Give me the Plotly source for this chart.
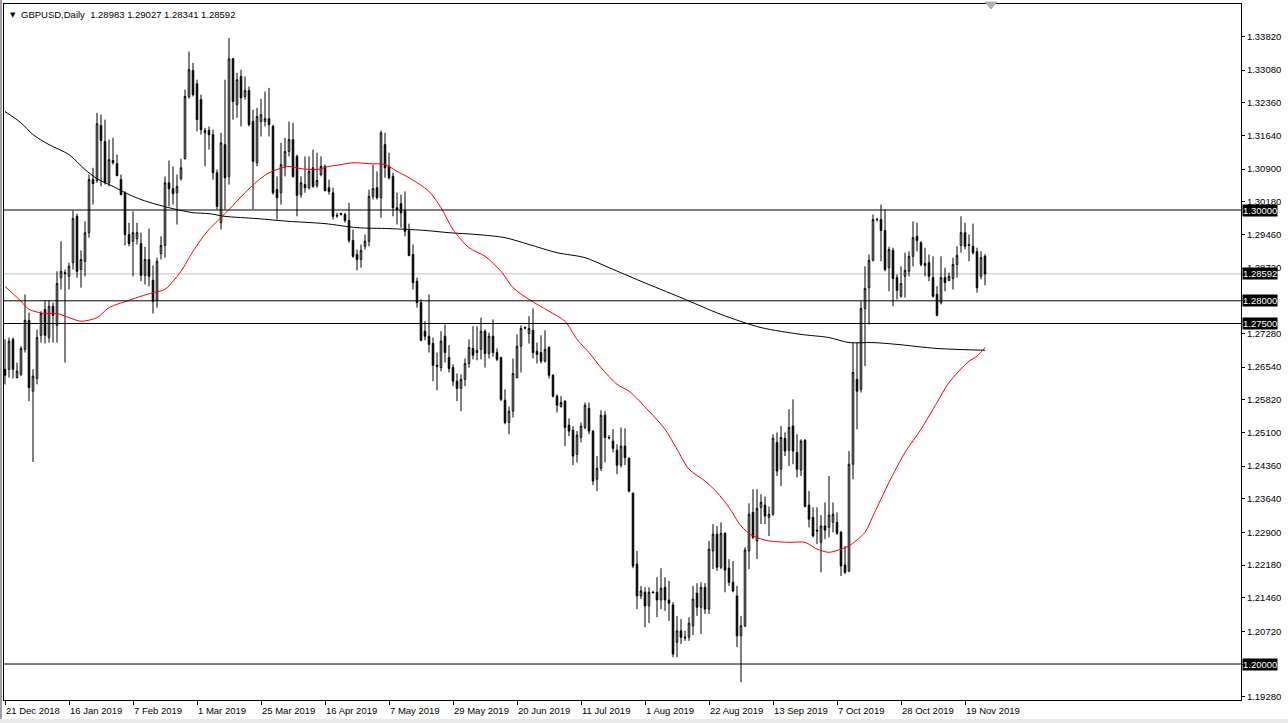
import plotly.graph_objects as go

# ---------------- data ----------------
opens = [1.2649,1.2649,1.2715,1.2631,1.2638,1.2693,1.2757,1.2601,1.2629,1.2724,
1.2781,1.2719,1.2788,1.2746,1.2851,1.2862,1.2854,1.2884,1.2986,1.2869,
1.2887,1.2950,1.3067,1.3065,1.3186,1.3151,1.3060,1.3109,1.3102,1.3067,
1.3038,1.2946,1.2931,1.2937,1.2926,1.2856,1.2891,1.2845,1.2801,1.2904,
1.2922,1.3060,1.3047,1.3038,1.3069,1.3113,1.3250,1.3307,1.3278,1.3243,
1.3175,1.3175,1.3166,1.3082,1.2972,1.3144,1.3074,1.3333,1.3232,1.3294,
1.3250,1.3263,1.3195,1.3104,1.3195,1.3195,1.3201,1.3184,1.3045,1.3038,
1.3096,1.3129,1.3155,1.3118,1.3034,1.3056,1.3049,1.3093,1.3054,1.3078,
1.3096,1.3049,1.3038,1.2988,1.2990,1.2990,1.2977,1.2933,1.2902,1.2891,
1.2920,1.2931,1.3030,1.3049,1.3027,1.3144,1.3096,1.3074,1.3005,1.3014,
1.2999,1.2955,1.2902,1.2843,1.2796,1.2733,1.2722,1.2706,1.2658,1.2653,
1.2722,1.2675,1.2653,1.2623,1.2607,1.2627,1.2662,1.2695,1.2686,1.2693,
1.2733,1.2684,1.2722,1.2686,1.2675,1.2581,1.2532,1.2557,1.2631,1.2700,
1.2741,1.2728,1.2735,1.2689,1.2686,1.2667,1.2697,1.2636,1.2590,1.2567,
1.2579,1.2526,1.2515,1.2462,1.2499,1.2521,1.2563,1.2513,1.2407,1.2431,
1.2548,1.2499,1.2491,1.2471,1.2438,1.2480,1.2453,1.2376,1.2220,1.2150,
1.2158,1.2128,1.2158,1.2158,1.2141,1.2169,1.2141,1.2130,1.2048,1.2073,
1.2057,1.2059,1.2084,1.2156,1.2125,1.2169,1.2121,1.2249,1.2286,1.2213,
1.2288,1.2211,1.2180,1.2150,1.2062,1.2084,1.2249,1.2334,1.2271,1.2345,
1.2350,1.2323,1.2330,1.2488,1.2429,1.2497,1.2471,1.2524,1.2466,1.2427,
1.2493,1.2350,1.2323,1.2295,1.2268,1.2304,1.2301,1.2312,1.2312,1.2290,
1.2218,1.2205,1.2440,1.2627,1.2605,1.2783,1.2829,1.2889,1.2979,1.2979,
1.2955,1.2873,1.2911,1.2851,1.2810,1.2854,1.2865,1.2898,1.2942,1.2928,
1.2882,1.2884,1.2851,1.2814,1.2796,1.2851,1.2845,1.2849,1.2880,1.2922,
1.2950,1.2924,1.2920,1.2908,1.2854,1.28983]

highs = [1.2715,1.2719,1.2719,1.2664,1.2700,1.2814,1.2774,1.2649,1.2737,1.2777,
1.2801,1.2801,1.2796,1.2865,1.2931,1.2869,1.2884,1.2999,1.2992,1.2911,
1.2975,1.3078,1.3093,1.3214,1.3210,1.3199,1.3155,1.3159,1.3122,1.3078,
1.3041,1.2972,1.2997,1.2972,1.2950,1.2919,1.2959,1.2878,1.2895,1.2942,
1.3074,1.3109,1.3096,1.3078,1.3113,1.3265,1.3349,1.3324,1.3287,1.3254,
1.3181,1.3184,1.3177,1.3089,1.3170,1.3287,1.3379,1.3335,1.3302,1.3309,
1.3294,1.3272,1.3221,1.3225,1.3245,1.3261,1.3269,1.3188,1.3074,1.3148,
1.3159,1.3195,1.3192,1.3122,1.3074,1.3118,1.3118,1.3133,1.3126,1.3118,
1.3100,1.3067,1.3049,1.2994,1.2994,1.2994,1.3016,1.2957,1.2913,1.2924,
1.2946,1.3045,1.3100,1.3085,1.3175,1.3170,1.3126,1.3082,1.3038,1.3034,
1.3041,1.2970,1.2924,1.2851,1.2803,1.2755,1.2814,1.2719,1.2686,1.2733,
1.2748,1.2702,1.2660,1.2640,1.2638,1.2673,1.2715,1.2744,1.2744,1.2763,
1.2737,1.2730,1.2759,1.2695,1.2677,1.2605,1.2567,1.2673,1.2726,1.2746,
1.2744,1.2766,1.2783,1.2708,1.2724,1.2735,1.2700,1.2638,1.2594,1.2590,
1.2581,1.2541,1.2524,1.2513,1.2532,1.2576,1.2576,1.2515,1.2458,1.2559,
1.2557,1.2504,1.2517,1.2484,1.2521,1.2519,1.2455,1.2378,1.2249,1.2172,
1.2169,1.2169,1.2161,1.2191,1.2211,1.2191,1.2183,1.2136,1.2106,1.2099,
1.2073,1.2103,1.2172,1.2178,1.2180,1.2178,1.2271,1.2308,1.2304,1.2312,
1.2290,1.2231,1.2227,1.2172,1.2106,1.2257,1.2354,1.2385,1.2385,1.2374,
1.2369,1.2347,1.2506,1.2510,1.2524,1.2510,1.2561,1.2583,1.2506,1.2495,
1.2495,1.2381,1.2345,1.2345,1.2328,1.2356,1.2414,1.2356,1.2334,1.2293,
1.2260,1.2469,1.2708,1.2708,1.2799,1.2876,1.2902,1.2990,1.2983,1.3012,
1.3001,1.2919,1.2917,1.2858,1.2876,1.2906,1.2909,1.2975,1.2972,1.2931,
1.2917,1.2902,1.2898,1.2832,1.2898,1.2873,1.2862,1.2895,1.2920,1.2986,
1.2972,1.2946,1.2970,1.2917,1.2909,1.29027]

lows = [1.2616,1.2631,1.2629,1.2629,1.2634,1.2686,1.2579,1.2445,1.2616,1.2708,
1.2706,1.2708,1.2708,1.2708,1.2825,1.2664,1.2825,1.2869,1.2851,1.2829,
1.2854,1.2939,1.3012,1.3060,1.3052,1.3056,1.3052,1.3100,1.3074,1.3032,
1.2922,1.2920,1.2854,1.2924,1.2843,1.2836,1.2832,1.2772,1.2785,1.2891,
1.2895,1.3008,1.3012,1.2968,1.3065,1.3111,1.3245,1.3250,1.3173,1.3166,
1.3096,1.3133,1.3067,1.3001,1.2957,1.3001,1.3056,1.3199,1.3203,1.3184,
1.3243,1.3184,1.3001,1.3096,1.3162,1.3184,1.3162,1.3034,1.2979,1.3012,
1.3074,1.3118,1.3071,1.2986,1.3027,1.3038,1.3045,1.3049,1.3049,1.3074,
1.3041,1.3034,1.2979,1.2983,1.2988,1.2972,1.2928,1.2895,1.2867,1.2873,
1.2913,1.2920,1.3023,1.3023,1.2983,1.3071,1.3067,1.2986,1.2968,1.2961,
1.2942,1.2898,1.2825,1.2785,1.2711,1.2713,1.2686,1.2623,1.2603,1.2645,
1.2664,1.2642,1.2612,1.2579,1.2557,1.2612,1.2653,1.2671,1.2669,1.2671,
1.2653,1.2673,1.2677,1.2667,1.2579,1.2528,1.2506,1.2543,1.2629,1.2642,
1.2737,1.2706,1.2673,1.2662,1.2662,1.2664,1.2629,1.2587,1.2554,1.2565,
1.2480,1.2502,1.2438,1.2444,1.2488,1.2517,1.2506,1.2394,1.2381,1.2425,
1.2444,1.2495,1.2466,1.2418,1.2433,1.2438,1.2378,1.2211,1.2121,1.2143,
1.2081,1.2090,1.2156,1.2103,1.2121,1.2117,1.2095,1.2015,1.2015,1.2044,
1.2051,1.2051,1.2064,1.2106,1.2066,1.2110,1.2110,1.2209,1.2205,1.2209,
1.2158,1.2172,1.2158,1.2037,1.1960,1.2081,1.2209,1.2275,1.2231,1.2308,
1.2308,1.2282,1.2326,1.2414,1.2392,1.2458,1.2436,1.2440,1.2411,1.2414,
1.2345,1.2301,1.2279,1.2264,1.2202,1.2275,1.2279,1.2290,1.2284,1.2194,
1.2198,1.2202,1.2407,1.2517,1.2598,1.2656,1.2748,1.2887,1.2975,1.2887,
1.2865,1.2821,1.2788,1.2803,1.2807,1.2807,1.2854,1.2876,1.2909,1.2876,
1.2854,1.2843,1.2807,1.2766,1.2792,1.2821,1.2843,1.2825,1.2851,1.2906,
1.2913,1.2887,1.2902,1.2818,1.2847,1.28341]

closes = [1.2636,1.2711,1.2649,1.2645,1.2695,1.2757,1.2609,1.2634,1.2719,1.2772,
1.2724,1.2788,1.2768,1.2838,1.2865,1.2860,1.2876,1.2981,1.2865,1.2891,
1.2950,1.3067,1.3058,1.3190,1.3153,1.3060,1.3111,1.3104,1.3076,1.3034,
1.2946,1.2926,1.2950,1.2950,1.2856,1.2891,1.2854,1.2799,1.2887,1.2922,
1.3060,1.3047,1.3036,1.3052,1.3093,1.3250,1.3309,1.3254,1.3199,1.3177,
1.3170,1.3166,1.3082,1.3008,1.3148,1.3071,1.3333,1.3239,1.3287,1.3247,
1.3263,1.3188,1.3107,1.3206,1.3210,1.3201,1.3188,1.3038,1.3027,1.3100,
1.3129,1.3155,1.3074,1.3032,1.3060,1.3049,1.3085,1.3052,1.3065,1.3096,
1.3043,1.3041,1.2986,1.2987,1.2992,1.2977,1.2933,1.2898,1.2891,1.2911,
1.2931,1.3030,1.3047,1.3027,1.3170,1.3093,1.3071,1.3005,1.3001,1.2994,
1.2953,1.2900,1.2840,1.2796,1.2713,1.2722,1.2704,1.2658,1.2656,1.2711,
1.2686,1.2651,1.2623,1.2607,1.2627,1.2662,1.2697,1.2680,1.2691,1.2733,
1.2684,1.2722,1.2686,1.2671,1.2583,1.2532,1.2557,1.2640,1.2700,1.2739,
1.2740,1.2739,1.2686,1.2682,1.2667,1.2693,1.2636,1.2590,1.2570,1.2576,
1.2521,1.2513,1.2458,1.2504,1.2524,1.2570,1.2513,1.2403,1.2431,1.2548,
1.2499,1.2498,1.2475,1.2438,1.2480,1.2455,1.2381,1.2216,1.2150,1.2161,
1.2128,1.2158,1.2157,1.2141,1.2167,1.2141,1.2134,1.2022,1.2073,1.2059,
1.2059,1.2090,1.2143,1.2125,1.2169,1.2121,1.2253,1.2286,1.2213,1.2288,
1.2207,1.2180,1.2161,1.2062,1.2084,1.2251,1.2330,1.2279,1.2343,1.2356,
1.2326,1.2330,1.2497,1.2425,1.2499,1.2469,1.2521,1.2469,1.2429,1.2491,
1.2347,1.2319,1.2282,1.2293,1.2304,1.2295,1.2328,1.2330,1.2288,1.2216,
1.2202,1.2440,1.2642,1.2601,1.2783,1.2827,1.2889,1.2979,1.2979,1.2955,
1.2869,1.2913,1.2849,1.2823,1.2838,1.2867,1.2898,1.2939,1.2933,1.2880,
1.2878,1.2854,1.2810,1.2768,1.2851,1.2840,1.2854,1.2880,1.2900,1.2950,
1.2920,1.2922,1.2906,1.2829,1.2895,1.28592]

bars = list(range(len(closes)))

# moving averages (bar index, price)
ma_red_bars = [0,4,6,10,13,16,19,23,26,31,34,37,40,42,44,47,49,51,56,60,63,66,71,74,78,81,84,87,91,95,
               98,101,106,109,112,116,120,124,127,131,136,140,143,146,149,153,156,161,165,168,171,175,178,
               181,184,187,191,196,200,203,206,209,211,215,217,221,225,229,233,236,241,243,245]
ma_red_vals = [1.2832,1.2799,1.2781,1.2772,1.2772,1.2763,1.2755,1.2763,1.2785,1.2801,1.2810,1.2818,1.2825,
               1.2843,1.2865,1.2909,1.2935,1.2957,1.3001,1.3038,1.3063,1.3082,1.3096,1.3091,1.3089,1.3096,
               1.3100,1.3104,1.3102,1.3100,1.3085,1.3071,1.3041,1.3005,1.2957,1.2917,1.2898,1.2865,1.2829,
               1.2803,1.2777,1.2755,1.2715,1.2686,1.2653,1.2616,1.2601,1.2557,1.2517,1.2473,1.2429,1.2403,
               1.2378,1.2345,1.2304,1.2282,1.2271,1.2268,1.2268,1.2253,1.2246,1.2253,1.2260,1.2290,1.2326,
               1.2400,1.2466,1.2517,1.2576,1.2620,1.2667,1.2678,1.2697]

ma_black_bars = [0,4,7,11,16,20,23,27,31,34,38,41,44,47,51,55,63,71,80,88,96,105,111,118,125,131,138,145,
                 151,159,169,179,189,199,206,211,217,223,233,245]
ma_black_vals = [1.3217,1.3192,1.3166,1.3144,1.3122,1.3089,1.3069,1.3052,1.3034,1.3023,1.3012,1.3005,1.2999,
                 1.2994,1.2992,1.2986,1.2981,1.2975,1.2970,1.2961,1.2959,1.2955,1.2950,1.2946,1.2939,1.2924,
                 1.2906,1.2895,1.2873,1.2843,1.2807,1.2770,1.2741,1.2726,1.2719,1.2708,1.2708,1.2704,1.2695,
                 1.2691]

level_lines = [1.30000, 1.28000, 1.27500, 1.20000]
bid_price = 1.28592
boxed_prices = [1.30000, 1.28592, 1.28000, 1.27500, 1.20000]

y_ticks = [1.33820,1.33080,1.32360,1.31640,1.30900,1.30180,1.29460,1.28720,1.28000,1.27280,1.26540,
           1.25820,1.25100,1.24360,1.23640,1.22900,1.22180,1.21460,1.20720,1.20000,1.19280]

date_labels = ["21 Dec 2018","16 Jan 2019","7 Feb 2019","1 Mar 2019","25 Mar 2019","16 Apr 2019",
               "7 May 2019","29 May 2019","20 Jun 2019","11 Jul 2019","1 Aug 2019","22 Aug 2019",
               "13 Sep 2019","7 Oct 2019","28 Oct 2019","19 Nov 2019"]
date_label_bars = [0,16,32,48,64,80,96,112,128,144,160,176,192,208,224,240]

header = "GBPUSD,Daily\u00a0\u00a01.28983 1.29027 1.28341 1.28592"

# ---------------- figure ----------------
FONT = "Liberation Sans, Arial, sans-serif"
fig = go.Figure()

fig.add_trace(go.Candlestick(
    x=bars, open=opens, high=highs, low=lows, close=closes,
    increasing=dict(line=dict(color="black", width=1), fillcolor="white"),
    decreasing=dict(line=dict(color="black", width=1), fillcolor="black"),
    whiskerwidth=0, hoverinfo="skip", showlegend=False))

fig.add_trace(go.Scatter(x=ma_black_bars, y=ma_black_vals, mode="lines",
                         line=dict(color="black", width=1, shape="spline", smoothing=0.8),
                         hoverinfo="skip", showlegend=False))
fig.add_trace(go.Scatter(x=ma_red_bars, y=ma_red_vals, mode="lines",
                         line=dict(color="#ff0000", width=1, shape="spline", smoothing=0.8),
                         hoverinfo="skip", showlegend=False))

shapes = []
shapes.append(dict(type="line", xref="paper", x0=0, x1=1, yref="y", y0=bid_price, y1=bid_price,
                   line=dict(color="#c0c0c0", width=1), layer="below"))
for lv in level_lines:
    shapes.append(dict(type="line", xref="paper", x0=0, x1=1, yref="y", y0=lv, y1=lv,
                       line=dict(color="black", width=1), layer="above"))
# window frame details (light grey borders)
shapes.append(dict(type="rect", xref="paper", yref="paper", x0=-4/1237, x1=-2/1237, y0=-23/696, y1=704/696,
                   line=dict(width=0), fillcolor="#a0a0a0", layer="below"))
shapes.append(dict(type="rect", xref="paper", yref="paper", x0=-4/1237, x1=1284/1237, y0=702/696, y1=704/696,
                   line=dict(width=0), fillcolor="#a0a0a0", layer="below"))
shapes.append(dict(type="rect", xref="paper", yref="paper", x0=-4/1237, x1=1284/1237, y0=-23/696, y1=-19/696,
                   line=dict(width=0), fillcolor="#e8e8e8", layer="below"))
# chart-shift marker
shapes.append(dict(type="path", xref="paper", yref="paper",
                   path="M 0.79305 1.00287 L 0.80275 1.00287 L 0.7979 0.99282 Z",
                   line=dict(color="#b0b0b0", width=1), fillcolor="#b0b0b0"))

annotations = []
for b, lab in zip(date_label_bars, date_labels):
    annotations.append(dict(x=b, xref="x", y=0, yref="paper", text=lab, showarrow=False,
                            xanchor="left", yanchor="top", xshift=-1, yshift=-3,
                            font=dict(family=FONT, size=9.5, color="black")))
for lv in boxed_prices:
    annotations.append(dict(x=1, xref="paper", y=lv, yref="y", text=f"{lv:.5f}", showarrow=False,
                            xanchor="left", yanchor="middle", xshift=1, bgcolor="black", borderpad=0,
                            font=dict(family=FONT, size=9.5, color="white")))
annotations.append(dict(x=0, xref="paper", y=1, yref="paper", text="\u25bc", showarrow=False,
                        xanchor="left", yanchor="top", xshift=4, yshift=-5,
                        font=dict(family="DejaVu Sans", size=7, color="black")))
annotations.append(dict(x=0, xref="paper", y=1, yref="paper", text=header, showarrow=False,
                        xanchor="left", yanchor="top", xshift=15, yshift=-3,
                        font=dict(family=FONT, size=9.5, color="black")))

# tick labels hidden where a boxed price label of the same value sits on top
tick_text = ["" if any(abs(v - b) < 1e-9 for b in boxed_prices) else f"{v:.5f}" for v in y_ticks]

fig.update_layout(
    width=1288, height=723,
    margin=dict(l=4, r=47, t=4, b=23, autoexpand=False),
    paper_bgcolor="white", plot_bgcolor="white",
    showlegend=False, boxgap=0.45,
    shapes=shapes, annotations=annotations,
    xaxis=dict(range=[-0.25, 309.0], rangeslider=dict(visible=False), showgrid=False, zeroline=False,
               showline=True, linecolor="black", linewidth=1, mirror=True,
               tickmode="array", tickvals=date_label_bars, ticks="outside", ticklen=4,
               tickcolor="black", showticklabels=False),
    yaxis=dict(range=[1.19207, 1.345374], side="right", showgrid=False, zeroline=False,
               showline=True, linecolor="black", linewidth=1, mirror=True,
               tickmode="array", tickvals=y_ticks, ticktext=tick_text,
               ticks="outside", ticklen=3, tickcolor="black",
               tickfont=dict(family=FONT, size=9.5, color="black")),
)

fig.write_html("out.html",
               config={"displayModeBar": False},
               post_script="document.body.style.margin='0px';document.body.style.overflow='hidden';")
